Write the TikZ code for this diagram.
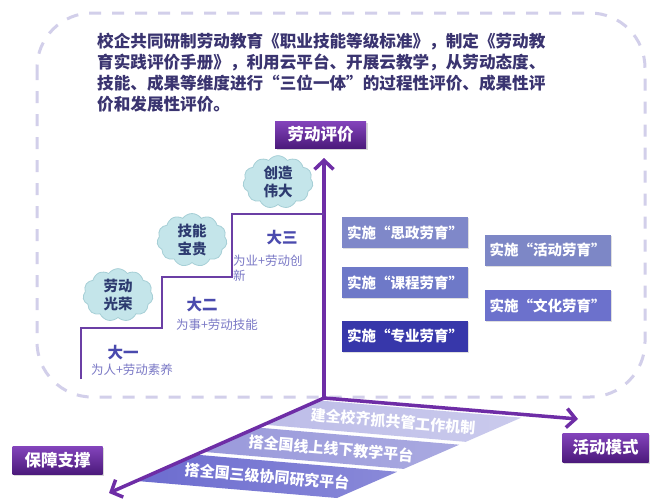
\documentclass[tikz,border=0pt]{standalone}
\usepackage{fontspec}
\setmainfont{Noto Sans CJK SC}
\newcommand\oqm{\makebox[1em][r]{“}}
\newcommand\cqm{\makebox[1em][l]{”}}
\usetikzlibrary{arrows.meta,shapes.symbols,shadows}
\definecolor{dashcol}{HTML}{D2CFEA}
\definecolor{paratext}{HTML}{3A3470}
\definecolor{arrcol}{HTML}{6E2DA6}
\definecolor{stepcol}{HTML}{6B3FA5}
\definecolor{lvlcol}{HTML}{4A4AAE}
\definecolor{subcol}{HTML}{7B79C6}
\definecolor{cloudfill}{HTML}{C4E5EA}
\definecolor{cloudline}{HTML}{A6CFD6}
\definecolor{cloudtext}{HTML}{2D3B70}
\definecolor{purtop}{HTML}{8444BC}
\definecolor{purbot}{HTML}{4C1A7C}
\definecolor{boxa}{HTML}{7F88C9}
\definecolor{boxb}{HTML}{6E79C8}
\definecolor{boxc}{HTML}{3737AA}
\definecolor{boxd}{HTML}{7D87C6}
\definecolor{boxe}{HTML}{6C71CC}
\definecolor{stra}{HTML}{BDBDE8}
\definecolor{strb}{HTML}{9A9ADB}
\definecolor{strc}{HTML}{6C6CCF}
\tikzset{
  purlabel/.style={rectangle, top color=purtop, bottom color=purbot, text=white,
    font=\fontsize{16.5}{17}\selectfont\bfseries, inner sep=0pt,
    drop shadow={opacity=0.3, shadow xshift=1.5pt, shadow yshift=-1.5pt}},
  impl/.style={rectangle, fill=#1, text=white, minimum width=126pt, minimum height=31pt,
    inner sep=0pt, font=\fontsize{14.5}{15}\selectfont\bfseries,
    drop shadow={opacity=0.25, shadow xshift=1.2pt, shadow yshift=-1.2pt}},
  cloudst/.style={cloud, cloud puffs=11, cloud puff arc=110, aspect=1.45, fill=cloudfill, draw=cloudline,
    line width=0.8pt, minimum width=70pt, minimum height=47pt, inner sep=0pt,
    align=center, text=cloudtext, font=\fontsize{14.5}{18}\selectfont\bfseries},
  lvl/.style={text=lvlcol, font=\fontsize{15.5}{16}\selectfont\bfseries, inner sep=0pt},
  sub/.style={text=subcol, font=\fontsize{12.5}{15}\selectfont, inner sep=0pt},
  arr/.style={draw=arrcol, line width=3.5pt, -{Straight Barb[length=9pt,width=19pt]}},
  stairline/.style={draw=stepcol, line width=2.6pt},
  stripetext/.style={text=white, font=\fontsize{15}{15}\selectfont\bfseries, rotate=-4.86, inner sep=0pt},
}
\begin{document}
\begin{tikzpicture}[x=1pt,y=-1pt]
\useasboundingbox (0,0) rectangle (653,501);
\fill[white] (0,0) rectangle (653,501);
% dashed frame
\draw[dashcol, line width=3pt, dash pattern=on 12pt off 11pt, rounded corners=55pt] (37,13) rectangle (645,397);
% paragraph
\node[anchor=north west, align=left, text=paratext, inner sep=0pt,
  font=\fontsize{16.6}{21}\selectfont\bfseries] (para) at (97,33)
 {校企共同研制劳动教育《职业技能等级标准》，制定《劳动教\\
  育实践评价手册》，利用云平台、开展云教学，从劳动态度、\\
  技能、成果等维度进行\oqm 三位一体\cqm 的过程性评价、成果性评\\
  价和发展性评价。};
% stripes (platform)
\begin{scope}[shift={(325,399)}, x={(200pt,-17pt)}, y={(-188pt,-82pt)}]
  \shade[left color=stra, right color=stra!80!white] (0,0.02) -- (1,0.02) -- (1,0.315) -- (0,0.315) -- cycle;
  \shade[left color=strb, right color=strb!85!white] (0,0.35) -- (1,0.35) -- (1,0.645) -- (0,0.645) -- cycle;
  \shade[left color=strc, right color=strc!80!white] (0,0.68) -- (1,0.68) -- (1,1) -- (0,1) -- cycle;
  \node[stripetext] (s1) at (0.5,0.17) {建全校齐抓共管工作机制};
  \node[stripetext] (s2) at (0.5,0.50) {搭全国线上线下教学平台};
  \node[stripetext] (s3) at (0.5,0.84) {搭全国三级协同研究平台};
\end{scope}
% axes
\coordinate (O) at (324,398);
\coordinate (tipU) at (324,158);
\coordinate (tipL) at (109,493);
\coordinate (tipR) at (578,419);
\draw[arr] (O) -- (tipU);
\draw[arr] (O) -- (tipL);
\draw[arr] (O) -- (tipR);
% axis labels
\node[purlabel, minimum width=91pt, minimum height=27pt] (eval) at (320.5,134.5) {劳动评价};
\node[purlabel, minimum width=90pt, minimum height=28pt] (supp) at (57.5,460) {保障支撑};
\node[purlabel, minimum width=86pt, minimum height=29pt] (mode) at (605.5,447.5) {活动模式};
% staircase
\draw[stairline] (81,379) |- (162,328) |- (232,277) |- (324,214);
% level labels
\node[lvl] (l1) at (123,353) {大一};
\node[sub] (l1s) at (132,370) {为人+劳动素养};
\node[lvl] (l2) at (202,305) {大二};
\node[sub] (l2s) at (217,325) {为事+劳动技能};
\node[lvl] (l3) at (282,238) {大三};
\node[sub, anchor=north west, align=left] (l3s) at (233,255) {为业+劳动创\\新};
% clouds
\node[cloudst] (c1) at (118,295) {劳动\\光荣};
\node[cloudst] (c2) at (192,240) {技能\\宝贵};
\node[cloudst] (c3) at (278,182) {创造\\伟大};
% implementation boxes
\node[impl=boxa] (b1) at (405,232.5) {实施\oqm 思政劳育\cqm};
\node[impl=boxb] (b2) at (405,282.5) {实施\oqm 课程劳育\cqm};
\node[impl=boxc] (b3) at (405,336) {实施\oqm 专业劳育\cqm};
\node[impl=boxd] (b4) at (547.5,250) {实施\oqm 活动劳育\cqm};
\node[impl=boxe] (b5) at (547.5,305.5) {实施\oqm 文化劳育\cqm};
\end{tikzpicture}
\end{document}
